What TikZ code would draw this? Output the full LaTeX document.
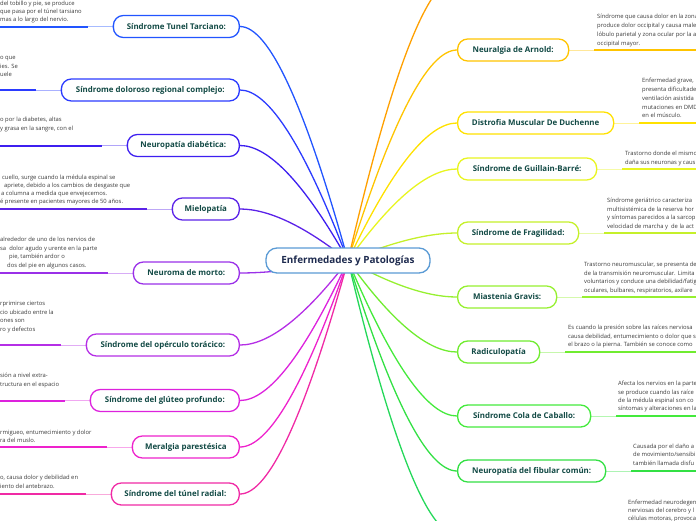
\documentclass[tikz,border=0pt]{standalone}
\usepackage{fontspec}
\setmainfont{Open Sans}
\usetikzlibrary{backgrounds,calc}
\definecolor{nodetext}{HTML}{124A45}
\definecolor{desctext}{HTML}{3A3A3A}
\definecolor{cCenter}{HTML}{5B9BD5}
\definecolor{centertext}{HTML}{1E2B4F}
\definecolor{cLa}{HTML}{2255FF}
\definecolor{cLb}{HTML}{2B3BFF}
\definecolor{cLc}{HTML}{3D1FF0}
\definecolor{cLd}{HTML}{5B22E8}
\definecolor{cLe}{HTML}{9A30E8}
\definecolor{cLf}{HTML}{B52FE6}
\definecolor{cLg}{HTML}{DD22DD}
\definecolor{cLh}{HTML}{EE22CC}
\definecolor{cLi}{HTML}{F02AA5}
\definecolor{cRo}{HTML}{FFA000}
\definecolor{cRa}{HTML}{FFC400}
\definecolor{cRb}{HTML}{FFE100}
\definecolor{cRc}{HTML}{E8F520}
\definecolor{cRd}{HTML}{C5F02A}
\definecolor{cRe}{HTML}{96F030}
\definecolor{cRf}{HTML}{70EC30}
\definecolor{cRg}{HTML}{44EA3C}
\definecolor{cRh}{HTML}{33E044}
\definecolor{cRi}{HTML}{25D85A}
\newcommand\mydesc[4]{\node[desc] (#1) at (#2,#3+2) {#4};}
\begin{document}
\begin{tikzpicture}[x=1pt,y=-1pt,
  topic/.style={draw, line width=1.3pt, rounded corners=10pt, fill=white,
    minimum height=22pt, inner sep=0pt, text=nodetext,
    font=\bfseries\fontsize{7.9}{9}\selectfont},
  desc/.style={font=\fontsize{5.85}{7}\selectfont, text=desctext, inner sep=0pt, anchor=base west},
  branch/.style={line width=1.3pt},
  lead/.style={line width=0.9pt},
  underline/.style={line width=2pt}]
\useasboundingbox (0,0) rectangle (696,520);
\clip (0,0) rectangle (696,520);

% centre
\node[draw=cCenter, line width=1.3pt, rounded corners=11pt, fill=white,
  minimum width=164pt, minimum height=25pt, inner sep=0pt, text=centertext,
  font=\bfseries\fontsize{9.9}{11}\selectfont] (C) at (348,260.5) {Enfermedades y Patologías};

% left topics
\node[topic, draw=cLa, minimum width=126pt, anchor=east] (La) at (240,26.5) {Síndrome Tunel Tarciano:};
\node[topic, draw=cLb, minimum width=178pt, anchor=east] (Lb) at (240,90) {Síndrome doloroso regional complejo:};
\node[topic, draw=cLc, minimum width=112pt, anchor=east] (Lc) at (240,145.5) {Neuropatía diabética:};
\node[topic, draw=cLd, minimum width=67pt, anchor=east] (Ld) at (240,209) {Mielopatía};
\node[topic, draw=cLe, minimum width=106pt, anchor=east] (Le) at (240,273) {Neuroma de morto:};
\node[topic, draw=cLf, minimum width=153pt, anchor=east] (Lf) at (240,345) {Síndrome del opérculo torácico:};
\node[topic, draw=cLg, minimum width=149pt, anchor=east] (Lg) at (240,400.5) {Síndrome del glúteo profundo:};
\node[topic, draw=cLh, minimum width=107pt, anchor=east] (Lh) at (240,447) {Meralgia parestésica};
\node[topic, draw=cLi, minimum width=128pt, anchor=east] (Li) at (240,494) {Síndrome del túnel radial:};

% right topics
\node[topic, draw=cRa, minimum width=111pt, anchor=west] (Ra) at (457,50) {Neuralgia de Arnold:};
\node[topic, draw=cRb, minimum width=156pt, anchor=west] (Rb) at (457,123) {Distrofia Muscular De Duchenne};
\node[topic, draw=cRc, minimum width=139pt, anchor=west] (Rc) at (457,169) {Síndrome de Guillain-Barré:};
\node[topic, draw=cRd, minimum width=121pt, anchor=west] (Rd) at (457,233) {Síndrome de Fragilidad:};
\node[topic, draw=cRe, minimum width=99pt, anchor=west] (Re) at (457,297) {Miastenia Gravis:};
\node[topic, draw=cRf, minimum width=82pt, anchor=west] (Rf) at (457,352) {Radiculopatía};
\node[topic, draw=cRg, minimum width=133pt, anchor=west] (Rg) at (457,416) {Síndrome Cola de Caballo:};
\node[topic, draw=cRh, minimum width=148pt, anchor=west] (Rh) at (457,471) {Neuropatía del fibular común:};
% branches that run off the page
\coordinate (Ro) at (457,-22);
\coordinate (Ri) at (457,535);

% descriptions, left
\mydesc{La1}{0}{3}{del tobillo y pie, se produce}
\mydesc{La2}{0}{11}{que pasa por el túnel tarsiano}
\mydesc{La3}{0}{19}{mas a lo largo del nervio.}
\mydesc{Lb1}{0}{57}{o que}
\mydesc{Lb2}{0}{66}{ies. Se}
\mydesc{Lb3}{0}{74}{uele}
\mydesc{Lc1}{0}{119}{o por la diabetes, altas}
\mydesc{Lc2}{0}{128}{y grasa en la sangre, con el}
\mydesc{Ld1}{2}{177}{cuello, surge cuando la médula espinal se}
\mydesc{Ld2}{4}{185}{apriete, debido a los cambios de desgaste que}
\mydesc{Ld3}{1}{193}{a columna a medida que envejecemos.}
\mydesc{Ld4}{0}{201}{é presente en pacientes mayores de 50 años.}
\mydesc{Le1}{0}{239}{alrededor de uno de los nervios de}
\mydesc{Le2}{0}{248}{sa\ \ dolor agudo y urente en la parte}
\mydesc{Le3}{9}{256}{pie, también ardor o}
\mydesc{Le4}{7}{265}{dos del pie en algunos casos.}
\mydesc{Lf1}{0}{303}{rprimirse ciertos}
\mydesc{Lf2}{0}{312}{cio ubicado entre la}
\mydesc{Lf3}{0}{320}{ones son}
\mydesc{Lf4}{0}{329}{ro y defectos}
\mydesc{Lg1}{0}{375}{sión a nivel extra-}
\mydesc{Lg2}{0}{384}{tructura en el espacio}
\mydesc{Lh1}{0}{432}{rmigueo, entumecimiento y dolor}
\mydesc{Lh2}{0}{440}{ra del muslo.}
\mydesc{Li1}{0}{477}{o, causa dolor y debilidad en}
\mydesc{Li2}{0}{486}{iento del antebrazo.}

% descriptions, right
\mydesc{Ra1}{597}{16}{Síndrome que causa dolor en la zona}
\mydesc{Ra2}{597}{25}{produce dolor occipital y causa male}
\mydesc{Ra3}{597}{34}{lóbulo parietal y zona ocular por la a}
\mydesc{Ra4}{597}{43}{occipital mayor.}
\mydesc{Rb1}{642}{80}{Enfermedad grave,}
\mydesc{Rb2}{642}{89}{presenta dificultade}
\mydesc{Rb3}{642}{98}{ventilación asistida}
\mydesc{Rb4}{642}{107}{mutaciones en DMD}
\mydesc{Rb5}{642}{115}{en el músculo.}
\mydesc{Rc1}{625}{153}{Trastorno donde el mismo}
\mydesc{Rc2}{625}{162}{daña sus neuronas y caus}
\mydesc{Rd1}{607}{200}{Síndrome geriátrico caracteriza}
\mydesc{Rd2}{607}{209}{multisistémica de la reserva hor}
\mydesc{Rd3}{607}{217}{y síntomas parecidos a la sarcop}
\mydesc{Rd4}{607}{226}{velocidad de marcha y\ \ de la act}
\mydesc{Re1}{584}{264}{Trastorno neuromuscular, se presenta de}
\mydesc{Re2}{584}{273}{de la transmisión neuromuscular. Limita}
\mydesc{Re3}{584}{281}{voluntarios y conduce una debilidad/fatig}
\mydesc{Re4}{584}{290}{oculares, bulbares, respiratorios, axilare}
\mydesc{Rf1}{568}{327}{Es cuando la presión sobre las raíces nerviosa}
\mydesc{Rf2}{568}{336}{causa debilidad, entumecimiento o dolor que s}
\mydesc{Rf3}{568}{344}{el brazo o la pierna. También se conoce como}
\mydesc{Rg1}{618}{383}{Afecta los nervios en la parte}
\mydesc{Rg2}{618}{392}{se produce cuando las raíce}
\mydesc{Rg3}{618}{400}{de la médula espinal son co}
\mydesc{Rg4}{618}{408}{síntomas y alteraciones en la}
\mydesc{Rh1}{633}{446}{Causada por el daño a}
\mydesc{Rh2}{633}{454}{de movimiento/sensibi}
\mydesc{Rh3}{633}{463}{también llamada disfu}
\mydesc{Rx1}{628}{502}{Enfermedad neurodegen}
\mydesc{Rx2}{628}{510}{nerviosas del cerebro y l}
\mydesc{Rx3}{628}{518}{células motoras, provoca}

% helper points: underline ends and curve controls
\foreach \n in {La,Lb,Lc,Ld,Le,Lf,Lg,Lh,Li}{
  \coordinate (\n m) at ([xshift=-25pt]\n.west);
  \coordinate (\n e) at (\n m -| 0,0);
  \coordinate (\n q) at ($(\n.east)!0.4!(C.center |- \n.east)$);
}
\foreach \n in {Ra,Rb,Rc,Rd,Re,Rf,Rg,Rh}{
  \coordinate (\n m) at ([xshift=25pt]\n.east);
  \coordinate (\n e) at (\n m -| 696,0);
  \coordinate (\n q) at ($(\n.west)!0.4!(C.center |- \n.west)$);
}
\foreach \n in {Ro,Ri}{
  \coordinate (\n q) at ($(\n)!0.4!(C.center |- \n)$);
}

\begin{scope}[on background layer]
\foreach \n/\c in {La/cLa,Lb/cLb,Lc/cLc,Ld/cLd,Le/cLe,Lf/cLf,Lg/cLg,Lh/cLh,Li/cLi}{
  \draw[branch, \c] (C.center) .. controls ($(C.center)!0.667!(\n q)$) and ($(\n.east)!0.667!(\n q)$) .. (\n.east);
  \draw[lead, \c!40] (\n.west) -- (\n m);
  \draw[underline, \c] (\n m) -- (\n e);
}
\foreach \n/\c in {Ra/cRa,Rb/cRb,Rc/cRc,Rd/cRd,Re/cRe,Rf/cRf,Rg/cRg,Rh/cRh}{
  \draw[branch, \c] (C.center) .. controls ($(C.center)!0.667!(\n q)$) and ($(\n.west)!0.667!(\n q)$) .. (\n.west);
  \draw[lead, \c!40] (\n.east) -- (\n m);
  \draw[underline, \c] (\n m) -- (\n e);
}
\foreach \n/\c in {Ro/cRo,Ri/cRi}{
  \draw[branch, \c] (C.center) .. controls ($(C.center)!0.667!(\n q)$) and ($(\n)!0.667!(\n q)$) .. (\n);
}
\end{scope}
\end{tikzpicture}
\end{document}
